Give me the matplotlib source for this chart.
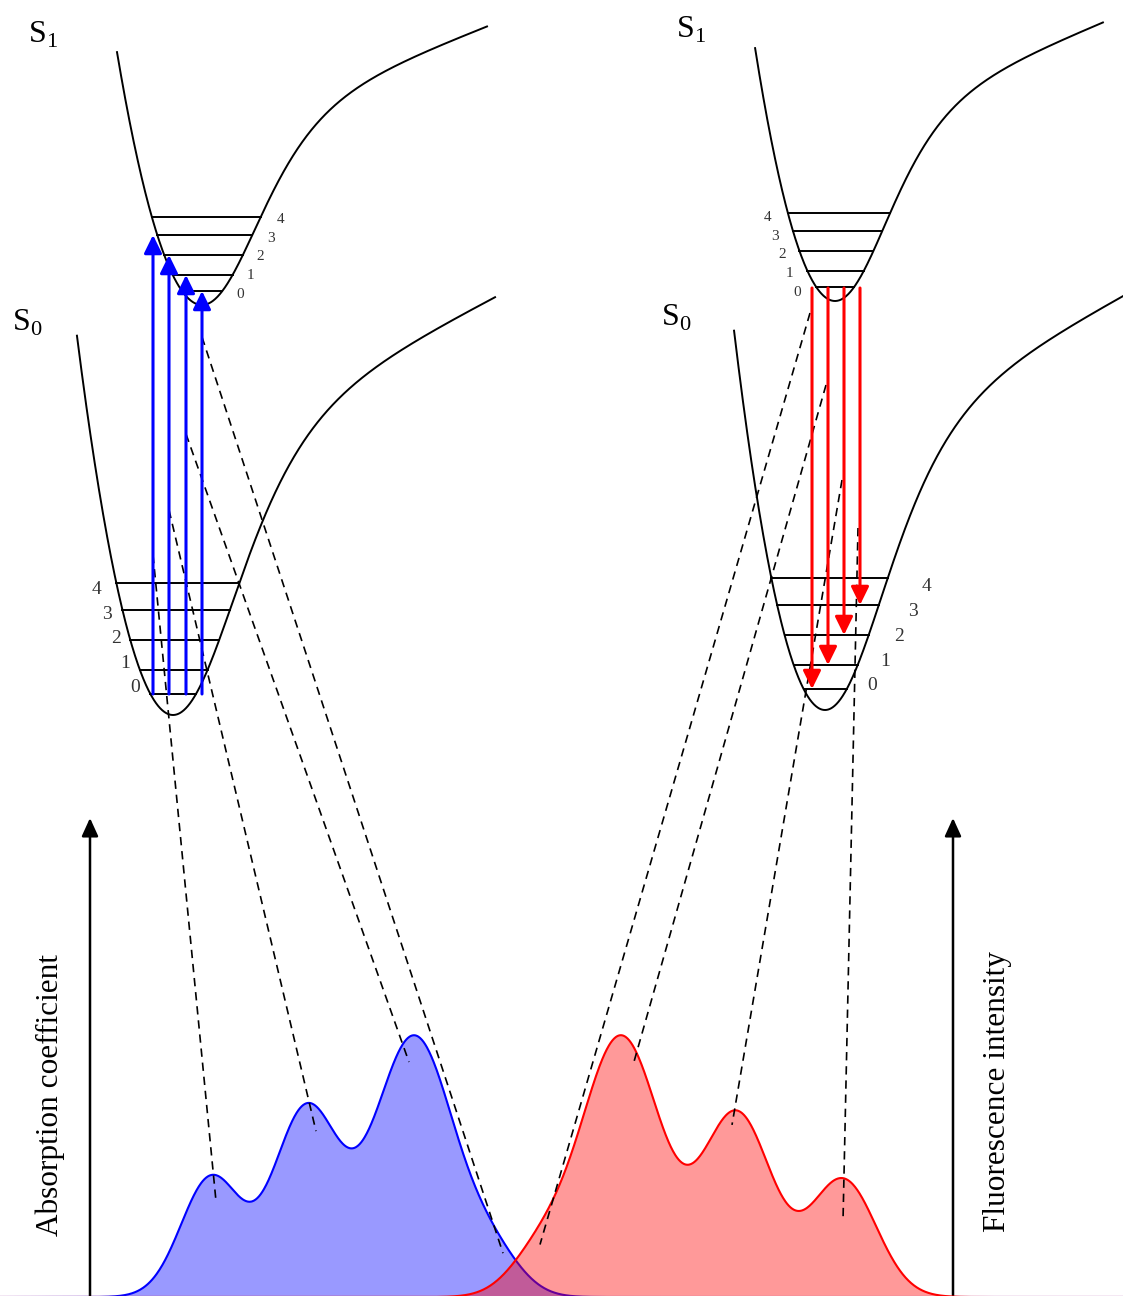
import numpy as np
import matplotlib.pyplot as plt

plt.rcParams['font.family'] = ['Liberation Serif', 'DejaVu Serif']
plt.rcParams['mathtext.fontset'] = 'custom'
plt.rcParams['mathtext.rm'] = 'Liberation Serif'

# ------------------------------------------------------------------
# data
# ------------------------------------------------------------------
level_labels = ["0", "1", "2", "3", "4"]
level_energy = [14, 30, 50, 70, 88]      # height of v levels above the well bottom (S1 units)

absorption_to = [3, 2, 1, 0]             # S0(v=0) -> S1(v)
emission_to = [0, 1, 2, 3]               # S1(v=0) -> S0(v)

abs_centers = [211, 306, 414, 493]
abs_heights = [119, 186, 260, 36]
abs_widths = [30, 33, 40, 29]

fl_centers = [540, 621, 737, 843]
fl_heights = [40, 260, 182, 117]
fl_widths = [30, 40, 35, 33]

abs_label = "Absorption coefficient"
fl_label = "Fluorescence intensity"

# shape of the potential curves
k_left = 0.035
well_depth = 197
well_width = 75
tail_slope = 0.39
u_range = (-85, 285)

# ------------------------------------------------------------------
# layout (pixel space of the 1123 x 1296 picture)
# ------------------------------------------------------------------
W, H = 1123, 1296
baseline = 1297
# x of minimum, y of minimum, x scale, y scale
wells = {
    "abs_S1": (202, 305, 1.00, 1.0),
    "abs_S0": (173, 715, 1.13, 1.5),
    "em_S1": (835, 301, 0.94, 1.0),
    "em_S0": (825, 710, 1.07, 1.5),
}
# level numbers: position of "0", step per level (dx, dy), font size
level_text = {
    "abs_S1": (240, 294, 10.25, -18.6, 11),
    "abs_S0": (135, 688, -9.5, -24.6, 14),
    "em_S1": (797, 292, -7.25, -18.6, 11),
    "em_S0": (872, 686, 13.5, -24.8, 14),
}
abs_arrow_x = [153, 169, 186, 202]
em_arrow_x = [812, 828, 844, 860]
abs_guide_top = [555, 510, 434, 337]
em_guide_top = [313, 385, 480, 528]
abs_guide_dx = [5, 10, -5, 10]
abs_guide_drop = [26, 25, 25, 12]
fl_guide_dx = [0, 13, -5, 0]
fl_guide_drop = [21, 14, 14, 43]


def potential(u):
    u = np.asarray(u, dtype=float)
    up = np.clip(u, 0, None)
    t = np.tanh(up / well_width)
    right = well_depth * t ** 2 + tail_slope * (up - well_width * t)
    return np.where(u < 0, k_left * u ** 2, right)


u_grid = np.linspace(0, u_range[1], 2000)
v_right = potential(u_grid)


def level_ends(E):
    return -np.sqrt(E / k_left), np.interp(E, v_right, u_grid)


def spectrum(x, centers, heights, widths):
    s = np.zeros_like(x)
    for c, h, w in zip(centers, heights, widths):
        s += h * np.exp(-(x - c) ** 2 / (2 * w ** 2))
    return s


fig = plt.figure(figsize=(W / 100, H / 100), dpi=100)
ax = fig.add_axes([0, 0, 1, 1])
ax.set_xlim(0, W)
ax.set_ylim(H, 0)
ax.axis('off')

# potential wells + vibrational levels
u = np.linspace(*u_range, 800)
for name, (x0, y0, sx, sy) in wells.items():
    ax.plot(x0 + sx * u, y0 - sy * potential(u), color='k', lw=1.4, zorder=5)
    lx, ly, ldx, ldy, lfs = level_text[name]
    for i, E in enumerate(level_energy):
        ul, ur = level_ends(E)
        y = y0 - sy * E
        ax.plot([x0 + sx * ul, x0 + sx * ur], [y, y], color='k', lw=1.4, zorder=5)
        ax.text(lx + i * ldx, ly + i * ldy, level_labels[i], fontsize=lfs,
                color='#333333', ha='center', va='center')

# state labels
for (xl, yl, txt) in [(28, 43, r'$\mathrm{S}_1$'), (12, 331, r'$\mathrm{S}_0$'),
                      (676, 38, r'$\mathrm{S}_1$'), (661, 326, r'$\mathrm{S}_0$')]:
    ax.text(xl, yl, txt, fontsize=23, ha='left', va='baseline')

# spectra
xs = np.linspace(0, W, 2000)
s_abs = spectrum(xs, abs_centers, abs_heights, abs_widths)
s_fl = spectrum(xs, fl_centers, fl_heights, fl_widths)
ax.fill_between(xs, baseline - s_abs, baseline, color=(0, 0, 1), alpha=0.4, lw=0, zorder=1)
ax.plot(xs, baseline - s_abs, color=(0, 0, 1), lw=1.5, zorder=2)
ax.fill_between(xs, baseline - s_fl, baseline, color=(1, 0, 0), alpha=0.4, lw=0, zorder=3)
ax.plot(xs, baseline - s_fl, color=(1, 0, 0), lw=1.5, zorder=4)

arrow_style = '-|>,head_length=0.55,head_width=0.27'

# absorption transitions
x0a, y0a, _, sya = wells["abs_S0"]
x1a, y1a, _, sy1 = wells["abs_S1"]
for i, v in enumerate(absorption_to):
    x = abs_arrow_x[i]
    ax.annotate('', xy=(x, y1a - sy1 * level_energy[v]), xytext=(x, y0a - sya * level_energy[0]),
                arrowprops=dict(arrowstyle=arrow_style, mutation_scale=20, lw=2.2,
                                color=(0, 0, 1), shrinkA=0, shrinkB=0), zorder=6)
    xe = abs_centers[i] + abs_guide_dx[i]
    ye = baseline - spectrum(np.array([xe], float), abs_centers, abs_heights, abs_widths)[0] + abs_guide_drop[i]
    ax.plot([x, xe], [abs_guide_top[i], ye], color='k', lw=1.2, ls=(0, (5, 3.5)), zorder=5)

# emission transitions
x0e, y0e, _, sye = wells["em_S0"]
x1e, y1e, _, sy1e = wells["em_S1"]
for i, v in enumerate(emission_to):
    x = em_arrow_x[i]
    ax.annotate('', xy=(x, y0e - sye * level_energy[v]), xytext=(x, y1e - sy1e * level_energy[0] + 1),
                arrowprops=dict(arrowstyle=arrow_style, mutation_scale=20, lw=2.2,
                                color=(1, 0, 0), shrinkA=0, shrinkB=0), zorder=6)
    xe = fl_centers[i] + fl_guide_dx[i]
    ye = baseline - spectrum(np.array([xe], float), fl_centers, fl_heights, fl_widths)[0] + fl_guide_drop[i]
    ax.plot([x - 2, xe], [em_guide_top[i], ye], color='k', lw=1.2, ls=(0, (5, 3.5)), zorder=5)

# intensity axes
for xa in (90, 953):
    ax.annotate('', xy=(xa, 818), xytext=(xa, H + 5),
                arrowprops=dict(arrowstyle='-|>,head_length=0.55,head_width=0.25',
                                mutation_scale=20, lw=1.8, color='k', shrinkA=0, shrinkB=0))
ax.text(50, 1095, abs_label, fontsize=22.5, rotation=90, ha='center', va='center')
ax.text(997, 1092, fl_label, fontsize=22.5, rotation=90, ha='center', va='center')

fig.savefig('out.png', dpi=100)
